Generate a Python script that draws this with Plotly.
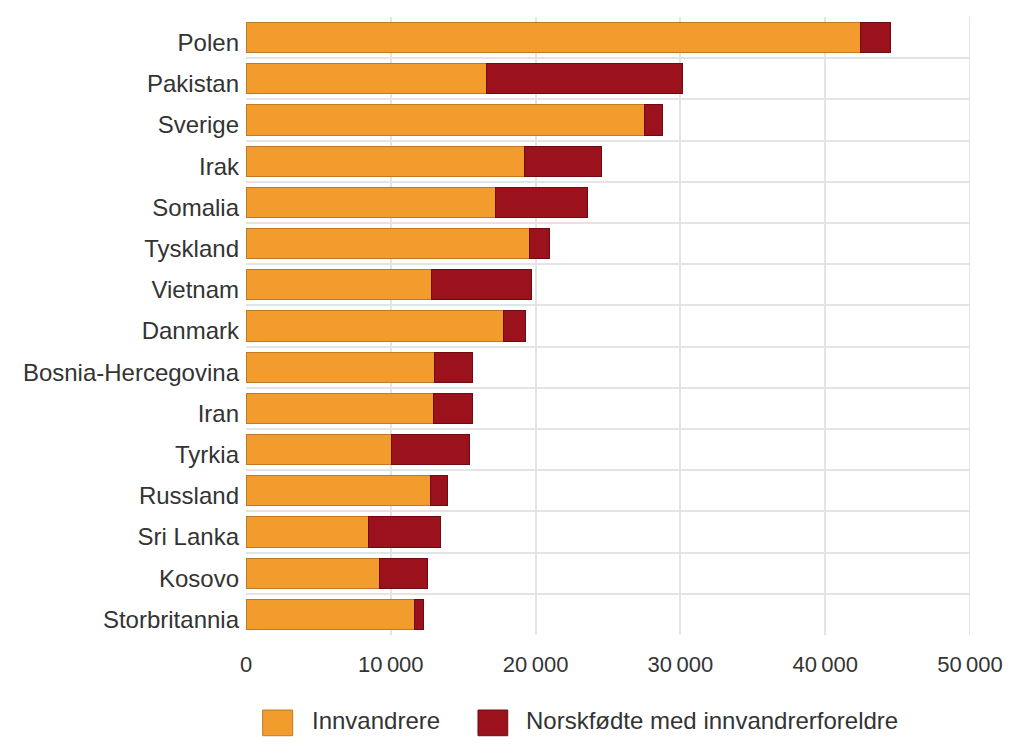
import plotly.graph_objects as go

categories = ["Polen", "Pakistan", "Sverige", "Irak", "Somalia", "Tyskland", "Vietnam",
              "Danmark", "Bosnia-Hercegovina", "Iran", "Tyrkia", "Russland", "Sri Lanka",
              "Kosovo", "Storbritannia"]
innvandrere = [42450, 16600, 27490, 19200, 17240, 19600, 12810, 17800, 13040, 12970,
               10020, 12760, 8470, 9230, 11610]
norskfodte = [2080, 13570, 1250, 5340, 6370, 1340, 6930, 1500, 2630, 2700,
              5420, 1140, 4960, 3300, 670]
series_names = ["Innvandrere", "Norskfødte med innvandrerforeldre"]
x_ticks = [0, 10000, 20000, 30000, 40000, 50000]

orange = "#F39C2E"
red = "#9C121C"
grid = "#E4E4E4"
txt = "#333333"
font = "Liberation Sans, Arial, sans-serif"

fig = go.Figure()
fig.add_trace(go.Bar(y=categories, x=innvandrere, orientation="h", name=series_names[0],
                     showlegend=False,
                     marker=dict(color=orange, line=dict(color="#C07A25", width=1))))
fig.add_trace(go.Bar(y=categories, x=norskfodte, orientation="h", name=series_names[1],
                     showlegend=False,
                     marker=dict(color=red, line=dict(color="#6E0C12", width=1))))

fig.update_layout(
    barmode="stack",
    bargap=0.27,
    width=1021, height=736,
    margin=dict(l=238, r=59, t=9, b=109),
    paper_bgcolor="white", plot_bgcolor="white",
    separators=",\u2009",
    font=dict(family=font, size=22, color=txt),
    xaxis=dict(range=[0, 50000], tickvals=x_ticks, tickformat=",d",
               showgrid=True, gridcolor=grid, gridwidth=2,
               zeroline=False, showline=False, ticks="", ticklabelstandoff=14,
               tickfont=dict(size=22, color=txt)),
    yaxis=dict(categoryorder="array", categoryarray=categories, autorange="reversed",
               tickson="boundaries", showgrid=True, gridcolor=grid, gridwidth=2,
               ticks="", showline=False, zeroline=False, ticklabelstandoff=6,
               ticklabelshift=-5,
               tickfont=dict(size=24, color=txt)),
)
fig.add_shape(type="line", xref="x", yref="paper", x0=50000, x1=50000, y0=0, y1=1,
              line=dict(color=grid, width=2))

# legend drawn as large swatches
legend_items = [(orange, "#C07A25", 0.023, 0.0645, 0.0884),
                (red, "#6E0C12", 0.3204, 0.3615, 0.384)]
for (fill, edge, x0, x1, tx), name in zip(legend_items, series_names):
    fig.add_shape(type="rect", xref="paper", yref="paper", x0=x0, x1=x1,
                  y0=-0.163, y1=-0.1214, fillcolor=fill, line=dict(color=edge, width=1))
    fig.add_annotation(xref="paper", yref="paper", x=tx, y=-0.139, text=name,
                       showarrow=False, xanchor="left", yanchor="middle",
                       font=dict(size=24, color=txt))

fig.write_html("out.html")
